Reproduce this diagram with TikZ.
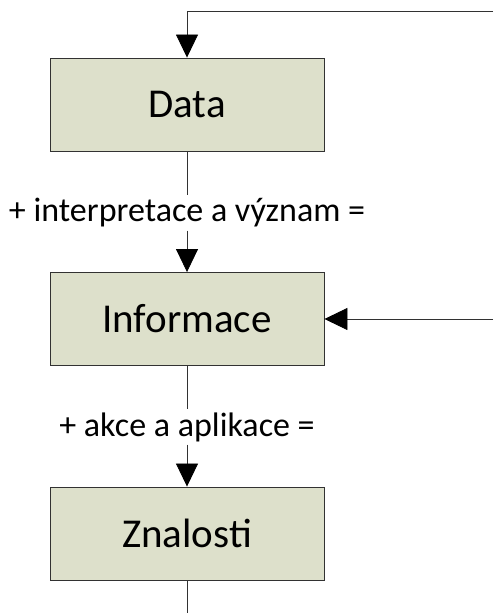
\documentclass[tikz,border=0pt]{standalone}
\usepackage{fontspec}
\setmainfont{Carlito}
\usetikzlibrary{arrows.meta}
\definecolor{boxfill}{RGB}{221,224,203}
\definecolor{edge}{RGB}{50,50,50}
\tikzset{
  stagebox/.style={draw=edge, line width=0.9pt, fill=boxfill, minimum width=274pt, minimum height=93pt, font=\fontsize{41}{48}\selectfont, inner sep=0pt},
  lbl/.style={font=\fontsize{34}{40}\selectfont, inner xsep=1pt, inner ysep=3pt},
  conn/.style={draw=edge, line width=0.8pt},
  arr/.style={conn, -{Triangle[length=23pt, width=22pt, color=black]}}
}
\begin{document}
\begin{tikzpicture}[x=1pt,y=1pt]
\useasboundingbox (0,0) rectangle (493,613);
\node[stagebox] (data) at (187,508.5) {Data};
\node[stagebox] (info) at (187,294) {Informace};
\node[stagebox] (znal) at (187,79.5) {Znalosti};
\node[lbl] (lab1) at (187,400) {+ interpretace a význam =};
\node[lbl] (lab2) at (187,186) {+ akce a aplikace =};
\coordinate (topr) at (493,602);
\coordinate (midr) at (493,294);
\coordinate (bot) at (187,0);
\draw[arr] (topr) -| (data.north);
\draw[conn] (data.south) -- (lab1.north);
\draw[arr] (lab1.south) -- (info.north);
\draw[arr] (midr) -- (info.east);
\draw[conn] (info.south) -- (lab2.north);
\draw[arr] (lab2.south) -- (znal.north);
\draw[conn] (znal.south) -- (bot);
\end{tikzpicture}
\end{document}
